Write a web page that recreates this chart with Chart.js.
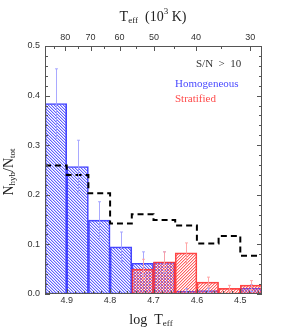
<!DOCTYPE html>
<html>
<head>
<meta charset="utf-8">
<script src="https://cdn.jsdelivr.net/npm/chart.js@4"></script>
<style>
  html, body { margin: 0; padding: 0; background: #fff; }
  #wrap { width: 292px; height: 330px; position: relative; }
</style>
</head>
<body>
<div id="wrap"><canvas id="chart"></canvas></div>
<script>
// bin centres in log Teff (bins 0.05 wide)
const logTeffBins = [4.925, 4.875, 4.825, 4.775, 4.725, 4.675, 4.625, 4.575, 4.525, 4.475];
const binWidth = 0.05;

// fractions N_hyb / N_tot
const homogeneous = [0.384, 0.257, 0.149, 0.095, 0.062, 0.064, 0.006, 0.007, 0.0, 0.012];
const homogeneousErr = [0.070, 0.053, 0.037, 0.030, 0.023, 0.021, 0.005, 0.005, 0.0, 0.007];
const stratified = [0, 0, 0, 0, 0.050, 0.065, 0.083, 0.024, 0.0115, 0.018];
const stratifiedErr = [0, 0, 0, 0, 0.020, 0.020, 0.020, 0.010, 0.006, 0.009];
const allStars = [0.259, 0.240, 0.203, 0.142, 0.161, 0.149, 0.138, 0.102, 0.117, 0.077];

// ticks
const yMajor = [0, 0.1, 0.2, 0.3, 0.4, 0.5];
const xMajor = [4.9, 4.8, 4.7, 4.6, 4.5];
const teffMajor = [80, 70, 60, 50, 40, 30];   // 10^3 K
const teffMinor = [85, 75, 65, 55, 45, 35];

const canvasRef = document.getElementById("chart");

// hatch pattern helper (3px period diagonal, soft edge)
function hatch(rgb, dir) {
  const c = document.createElement("canvas");
  c.width = 3; c.height = 3;
  const g = c.getContext("2d");
  for (let i = 0; i < 3; i++) {
    const x = dir > 0 ? 2 - i : i;
    g.fillStyle = "rgba(" + rgb + ",0.85)";
    g.fillRect(x, i, 1, 1);
    g.fillStyle = "rgba(" + rgb + ",0.3)";
    g.fillRect((x + 1) % 3, i, 1, 1);
  }
  return g.createPattern(c, "repeat");
}

// stepped outline for the whole sample
const stepPoints = logTeffBins.map((x, i) => ({ x: x + binWidth / 2, y: allStars[i] }));
stepPoints.push({ x: logTeffBins[logTeffBins.length - 1] - binWidth / 2, y: allStars[allStars.length - 1] });

// frame, ticks, labels, error bars and text
const decorations = {
  id: "decorations",
  afterDatasetsDraw(chart) {
    const ctx = chart.ctx;
    const xs = chart.scales.x, ys = chart.scales.y;
    const a = chart.chartArea;
    ctx.save();

    // error bars
    function errBars(vals, errs, color) {
      ctx.strokeStyle = color;
      ctx.lineWidth = 1;
      logTeffBins.forEach((lx, i) => {
        if (!errs[i]) return;
        const px = Math.round(xs.getPixelForValue(lx)) + 0.5;
        const y1 = ys.getPixelForValue(vals[i] + errs[i]);
        const y2 = ys.getPixelForValue(Math.max(0, vals[i] - errs[i]));
        ctx.beginPath();
        ctx.moveTo(px, y1); ctx.lineTo(px, y2);
        ctx.moveTo(px - 1.5, y1); ctx.lineTo(px + 1.5, y1);
        ctx.moveTo(px - 1.5, y2); ctx.lineTo(px + 1.5, y2);
        ctx.stroke();
      });
    }
    errBars(homogeneous, homogeneousErr, "rgba(160,160,255,0.9)");
    errBars(stratified, stratifiedErr, "rgba(255,160,160,0.9)");

    // frame
    ctx.strokeStyle = "#555";
    ctx.lineWidth = 1;
    ctx.strokeRect(a.left + 0.5, a.top + 0.5, a.right - a.left - 1, a.bottom - a.top - 1);

    ctx.beginPath();
    // y ticks, left and right
    for (let v = 0; v <= 0.5001; v += 0.02) {
      const py = Math.round(ys.getPixelForValue(v)) + 0.5;
      const major = Math.abs(v * 10 - Math.round(v * 10)) < 1e-6;
      const len = major ? 5 : 3;
      ctx.moveTo(a.left, py); ctx.lineTo(a.left + len, py);
      ctx.moveTo(a.right, py); ctx.lineTo(a.right - len, py);
    }
    // bottom ticks
    for (let v = 4.46; v <= 4.9501; v += 0.02) {
      const px = Math.round(xs.getPixelForValue(v)) + 0.5;
      const major = Math.abs(v * 10 - Math.round(v * 10)) < 1e-6;
      const len = major ? 5 : 3;
      ctx.moveTo(px, a.bottom); ctx.lineTo(px, a.bottom - len);
    }
    // top ticks (Teff)
    teffMajor.forEach(t => {
      const px = Math.round(xs.getPixelForValue(Math.log10(t * 1000))) + 0.5;
      ctx.moveTo(px, a.top); ctx.lineTo(px, a.top + 5);
    });
    teffMinor.forEach(t => {
      const px = Math.round(xs.getPixelForValue(Math.log10(t * 1000))) + 0.5;
      ctx.moveTo(px, a.top); ctx.lineTo(px, a.top + 3);
    });
    ctx.stroke();

    // tick labels
    ctx.fillStyle = "#333";
    ctx.font = "9px 'Liberation Sans', sans-serif";
    ctx.textAlign = "right";
    ctx.textBaseline = "middle";
    yMajor.forEach(v => ctx.fillText(v.toFixed(1), a.left - 5, ys.getPixelForValue(v)));
    ctx.textAlign = "center";
    xMajor.forEach(v => ctx.fillText(v.toFixed(1), xs.getPixelForValue(v), a.bottom + 7));
    teffMajor.forEach(t => ctx.fillText(String(t), xs.getPixelForValue(Math.log10(t * 1000)), a.top - 8));

    // titles with subscripts
    const serif = "'Liberation Serif', 'DejaVu Serif', serif";
    function subText(parts, x, y) {
      // parts: [text, kind] kind: n normal, s sub, p sup
      let w = 0;
      parts.forEach(p => {
        ctx.font = (p[1] === "n" ? "14px " : "9px ") + serif;
        w += ctx.measureText(p[0]).width;
      });
      let cx = x - w / 2;
      ctx.textAlign = "left";
      parts.forEach(p => {
        ctx.font = (p[1] === "n" ? "14px " : "9px ") + serif;
        const dy = p[1] === "s" ? 4 : p[1] === "p" ? -5 : 0;
        ctx.fillText(p[0], cx, y + dy);
        cx += ctx.measureText(p[0]).width;
      });
    }
    ctx.fillStyle = "#222";
    ctx.textBaseline = "middle";
    subText([["T", "n"], ["eff", "s"], ["  (10", "n"], ["3", "p"], [" K)", "n"]], 153, 17);
    subText([["log  T", "n"], ["eff", "s"]], 151, 320);
    ctx.save();
    ctx.translate(9, 172);
    ctx.rotate(-Math.PI / 2);
    subText([["N", "n"], ["hyb", "s"], ["/N", "n"], ["tot", "s"]], 0, 0);
    ctx.restore();

    // legend text
    ctx.font = "11px " + serif;
    ctx.textAlign = "left";
    ctx.fillStyle = "#333";
    ctx.fillText("S/N  >  10", 196, 64);
    ctx.fillStyle = "#4a4aff";
    ctx.fillText("Homogeneous", 175, 84);
    ctx.fillStyle = "#ff4a4a";
    ctx.fillText("Stratified", 175, 99);

    ctx.restore();
  },
};

let myChart = new Chart(canvasRef, {
  type: "bar",
  data: {
    datasets: [
      {
        type: "line",
        label: "All",
        data: stepPoints,
        stepped: true,
        borderColor: "#000",
        borderWidth: 2,
        borderDash: [6, 4],
        pointRadius: 0,
        fill: false,
      },
      {
        label: "Stratified",
        data: logTeffBins.map((x, i) => ({ x: x, y: stratified[i] })),
        backgroundColor: hatch("255,70,70", 1),
        borderColor: "rgba(255,50,50,0.9)",
        borderWidth: 1,
        borderSkipped: false,
        barPercentage: 1,
        categoryPercentage: 1,
        grouped: false,
      },
      {
        label: "Homogeneous",
        data: logTeffBins.map((x, i) => ({ x: x, y: homogeneous[i] })),
        backgroundColor: hatch("70,70,255", -1),
        borderColor: "rgba(50,50,255,0.9)",
        borderWidth: 1,
        borderSkipped: false,
        barPercentage: 1,
        categoryPercentage: 1,
        grouped: false,
      },
    ],
  },
  options: {
    responsive: true,
    maintainAspectRatio: false,
    animation: false,
    layout: { padding: { left: 45, right: 30, top: 46, bottom: 36 } },
    plugins: { legend: { display: false }, tooltip: { enabled: false } },
    scales: {
      x: { type: "linear", min: 4.45, max: 4.95, reverse: true, offset: false, display: false },
      y: { min: 0, max: 0.5, display: false },
    },
  },
  plugins: [decorations],
});
</script>
</body>
</html>
